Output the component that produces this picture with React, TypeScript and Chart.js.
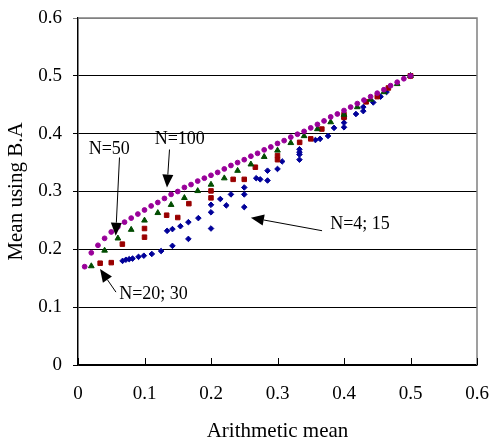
import React, { useEffect, useRef } from 'react';
import { Chart, registerables } from 'chart.js';

Chart.register(...registerables);

// N=100 (purple circles)
const n100X = [0.01,0.02,0.03,0.04,0.05,0.06,0.07,0.08,0.09,0.10,0.11,0.12,0.13,0.14,0.15,0.16,0.17,0.18,0.19,0.20,0.21,0.22,0.23,0.24,0.25,0.26,0.27,0.28,0.29,0.30,0.31,0.32,0.33,0.34,0.35,0.36,0.37,0.38,0.39,0.40,0.41,0.42,0.43,0.44,0.45,0.46,0.47,0.48,0.49,0.50];
const n100Y = [0.170,0.194,0.207,0.219,0.230,0.239,0.247,0.254,0.261,0.268,0.275,0.281,0.288,0.295,0.300,0.307,0.312,0.318,0.323,0.328,0.333,0.339,0.345,0.350,0.355,0.361,0.366,0.372,0.377,0.383,0.388,0.394,0.399,0.404,0.410,0.416,0.422,0.429,0.434,0.440,0.446,0.452,0.458,0.464,0.470,0.476,0.483,0.489,0.495,0.500];

// N=50 (green triangles)
const n50X = [0.02,0.04,0.06,0.08,0.10,0.12,0.14,0.16,0.18,0.20,0.22,0.24,0.26,0.28,0.30,0.32,0.34,0.36,0.38,0.40,0.42,0.44,0.46,0.48,0.50];
const n50Y = [0.171,0.198,0.219,0.234,0.250,0.263,0.277,0.289,0.301,0.312,0.323,0.336,0.347,0.360,0.371,0.384,0.396,0.408,0.420,0.433,0.446,0.459,0.472,0.486,0.500];

// N=20; 30 (red squares)
const n2030X = [0.0333,0.05,0.0667,0.1,0.1,0.1333,0.15,0.1667,0.2,0.2,0.2333,0.25,0.2667,0.3,0.3,0.3333,0.35,0.3667,0.4,0.4,0.4333,0.45,0.4667,0.5,0.5];
const n2030Y = [0.176,0.177,0.209,0.236,0.221,0.259,0.255,0.279,0.301,0.289,0.321,0.321,0.342,0.362,0.355,0.385,0.391,0.408,0.433,0.428,0.455,0.464,0.479,0.5,0.5];

// N=4; 15 (blue diamonds)
const n415X = [0.067,0.072,0.077,0.082,0.091,0.099,0.111,0.125,0.142,0.166,0.200,0.134,0.142,0.154,0.166,0.181,0.200,0.200,0.214,0.223,0.230,0.250,0.250,0.250,0.268,0.274,0.285,0.285,0.300,0.307,0.333,0.333,0.333,0.333,0.357,0.364,0.376,0.385,0.400,0.400,0.400,0.418,0.429,0.429,0.444,0.455,0.464,0.5];
const n415Y = [0.180,0.182,0.183,0.184,0.187,0.189,0.192,0.197,0.206,0.218,0.236,0.232,0.235,0.240,0.247,0.254,0.264,0.277,0.287,0.276,0.295,0.295,0.307,0.273,0.323,0.321,0.319,0.336,0.339,0.352,0.373,0.368,0.364,0.355,0.389,0.391,0.396,0.410,0.427,0.419,0.411,0.434,0.446,0.439,0.454,0.464,0.472,0.5];

const xTickValues = [0, 0.1, 0.2, 0.3, 0.4, 0.5, 0.6];

// Annotation labels (data units): text centre, arrow tail, arrow tip
const labelTexts = ['N=100', 'N=50', 'N=4; 15', 'N=20; 30'];
const labelPos = [[0.153, 0.390], [0.047, 0.373], [0.424, 0.2426], [0.1135, 0.1222]];
const arrowTail = [[0.1376, 0.3726], [0.0624, 0.3588], [0.367, 0.2322], [0.0571, 0.126]];
const arrowTip = [[0.1338, 0.3068], [0.0567, 0.2236], [0.260, 0.2548], [0.0331, 0.1659]];

const pts = (xs: number[], ys: number[]) => xs.map((x, i) => ({ x, y: ys[i] }));

const FONT = '"Liberation Serif", "Times New Roman", serif';

const decorPlugin = {
  id: 'decor',
  afterDraw(chart: any) {
    const { ctx, chartArea, scales } = chart;
    const xs = scales.x;
    const ys = scales.y;
    ctx.save();
    // top/right plot border
    ctx.strokeStyle = '#808080';
    ctx.lineWidth = 1.5;
    ctx.beginPath();
    ctx.moveTo(chartArea.left, chartArea.top);
    ctx.lineTo(chartArea.right, chartArea.top);
    ctx.lineTo(chartArea.right, chartArea.bottom);
    ctx.stroke();
    // inward x tick marks
    ctx.strokeStyle = '#000';
    ctx.lineWidth = 1;
    xTickValues.forEach((v) => {
      const px = Math.round(xs.getPixelForValue(v)) + 0.5;
      ctx.beginPath();
      ctx.moveTo(px, chartArea.bottom);
      ctx.lineTo(px, chartArea.bottom - 7);
      ctx.stroke();
    });
    // annotations
    ctx.fillStyle = '#000';
    ctx.font = '18px ' + FONT;
    ctx.textAlign = 'center';
    ctx.textBaseline = 'middle';
    labelTexts.forEach((t, i) => {
      ctx.fillText(t, xs.getPixelForValue(labelPos[i][0]), ys.getPixelForValue(labelPos[i][1]));
      const x1 = xs.getPixelForValue(arrowTail[i][0]);
      const y1 = ys.getPixelForValue(arrowTail[i][1]);
      const x2 = xs.getPixelForValue(arrowTip[i][0]);
      const y2 = ys.getPixelForValue(arrowTip[i][1]);
      const ang = Math.atan2(y2 - y1, x2 - x1);
      const hl = 13;
      const hw = 5.5;
      const bx = x2 - hl * Math.cos(ang);
      const by = y2 - hl * Math.sin(ang);
      ctx.lineWidth = 1;
      ctx.beginPath();
      ctx.moveTo(x1, y1);
      ctx.lineTo(bx, by);
      ctx.stroke();
      ctx.beginPath();
      ctx.moveTo(x2, y2);
      ctx.lineTo(bx + hw * Math.sin(ang), by - hw * Math.cos(ang));
      ctx.lineTo(bx - hw * Math.sin(ang), by + hw * Math.cos(ang));
      ctx.closePath();
      ctx.fill();
    });
    ctx.restore();
  },
};

export default function App() {
  const ref = useRef<HTMLCanvasElement>(null);
  useEffect(() => {
    document.body.style.margin = '0';
    const tickCb = (v: any) => (Math.abs(v) < 1e-9 ? '0' : Number(v).toFixed(1));
    const chart = new Chart(ref.current as HTMLCanvasElement, {
      type: 'scatter',
      data: {
        datasets: [
          { label: 'N=100', data: pts(n100X, n100Y), pointStyle: 'circle', pointRadius: 2.4, backgroundColor: '#990099', borderColor: '#990099', borderWidth: 1, order: 0 },
          { label: 'N=50', data: pts(n50X, n50Y), pointStyle: 'triangle', pointRadius: 3.3, backgroundColor: '#004d00', borderColor: '#004d00', borderWidth: 1, order: 1 },
          { label: 'N=20; 30', data: pts(n2030X, n2030Y), pointStyle: 'rect', pointRadius: 3.2, backgroundColor: '#990000', borderColor: '#990000', borderWidth: 1, order: 2 },
          { label: 'N=4; 15', data: pts(n415X, n415Y), pointStyle: 'rectRot', pointRadius: 2.8, backgroundColor: '#000099', borderColor: '#000099', borderWidth: 1, order: 3 },
        ],
      },
      options: {
        responsive: false,
        animation: false,
        devicePixelRatio: 1,
        layout: { padding: { top: 18, right: 16, left: 0, bottom: 0 } },
        plugins: { legend: { display: false }, tooltip: { enabled: false } },
        scales: {
          x: {
            type: 'linear',
            min: 0,
            max: 0.6,
            afterFit: (s: any) => { s.height = 80; s.paddingLeft = 0; s.paddingRight = 0; },
            ticks: { stepSize: 0.1, padding: 18, color: '#000', font: { family: FONT, size: 19 }, callback: tickCb, maxRotation: 0 },
            grid: { display: false, drawTicks: false },
            border: { display: true, color: '#000', width: 1.5 },
            title: { display: true, text: 'Arithmetic mean', color: '#000', font: { family: FONT, size: 21 }, padding: { top: 0, bottom: 1 } },
          },
          y: {
            type: 'linear',
            min: 0,
            max: 0.6,
            afterFit: (s: any) => { s.width = 78; s.paddingTop = 0; s.paddingBottom = 0; },
            ticks: { stepSize: 0.1, padding: 11, color: '#000', font: { family: FONT, size: 19 }, callback: tickCb },
            grid: {
              color: (c: any) => (c.tick && c.tick.value > 0.59 ? '#808080' : '#000'),
              lineWidth: 1,
              drawTicks: true,
              tickLength: 5,
            },
            border: { display: true, color: '#000', width: 1.5 },
            title: { display: true, text: 'Mean using B.A', color: '#000', font: { family: FONT, size: 21 }, padding: { top: 4, bottom: 0 } },
          },
        },
      },
      plugins: [decorPlugin],
    } as any);
    return () => chart.destroy();
  }, []);
  return (
    <div style={{ width: 493, height: 445 }}>
      <canvas ref={ref} width={493} height={445} style={{ display: 'block' }} />
    </div>
  );
}
